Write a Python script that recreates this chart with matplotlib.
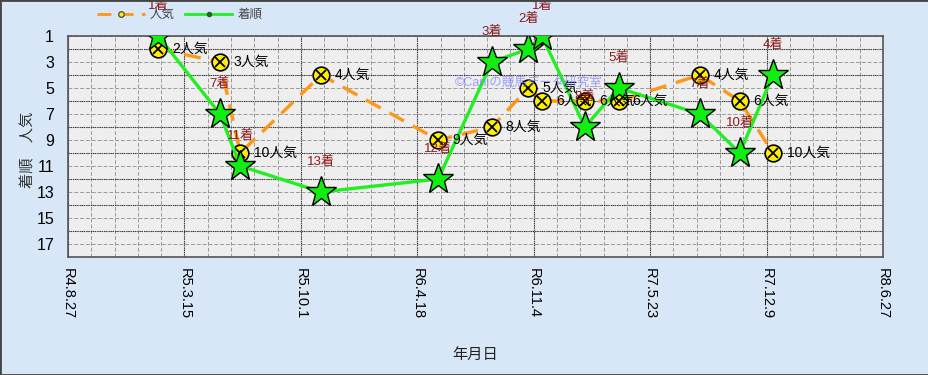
import numpy as np
import pandas as pd
import matplotlib
matplotlib.use('Agg')
import matplotlib.pyplot as plt
import matplotlib.dates as mdates
from matplotlib.lines import Line2D
from matplotlib.patches import Rectangle

plt.rcParams['font.family'] = ['Liberation Sans', 'Noto Sans CJK JP']

# data
race_dates = ['2023-01-29', '2023-05-15', '2023-06-19', '2023-11-05', '2024-05-24',
              '2024-08-24', '2024-10-26', '2024-11-18', '2025-01-31', '2025-03-30',
              '2025-08-16', '2025-10-24', '2025-12-20']
ninki = [2, 3, 10, 4, 9, 8, 5, 6, 6, 6, 4, 6, 10]
chakujun = [1, 7, 11, 13, 12, 3, 2, 1, 8, 5, 7, 10, 4]
x_start, x_end = '2022-08-27', '2026-06-27'
y_ticks = [1, 3, 5, 7, 9, 11, 13, 15, 17]

x = pd.to_datetime(race_dates)

fig = plt.figure(figsize=(9.29, 3.75), dpi=100, facecolor='#d8e7f7')
ax = fig.add_axes([68/929, 1 - 257/375, 815/929, 221/375])
ax.set_facecolor('#eeeeee')

# grid
major_x = pd.date_range(x_start, x_end, freq='200D')
minor_x = pd.date_range(x_start, x_end, freq='40D')
for d in minor_x:
    ax.axvline(d, color='#9a9a9a', lw=0.7, ls=(0, (4, 2)), zorder=0)
for d in major_x:
    ax.axvline(d, color='#333333', lw=0.8, ls=(0, (1, 1)), zorder=0)
for v in range(1, 19):
    ax.axhline(v, color='#9a9a9a', lw=0.7, ls=(0, (4, 2)), zorder=0)
for v in range(2, 19, 2):
    ax.axhline(v, color='#333333', lw=0.8, ls=(0, (1, 1)), zorder=0)

# 人気
ax.plot(x, ninki, color='#ff9614', lw=2.4, ls=(0, (5, 3)), zorder=2)
ax.plot(x, ninki, ls='none', marker='o', ms=12, mfc='#ffee00', mec='black', mew=1.2, zorder=3)
ax.plot(x, ninki, ls='none', marker='x', ms=7, mec='black', mew=1.3, zorder=3)

# 着順
ax.plot(x, chakujun, color='#22ee22', lw=2.4, zorder=4)
ax.plot(x, chakujun, ls='none', marker='*', ms=23, mfc='#11ee11', mec='black', mew=1.0, zorder=5)

for xi, n in zip(x, ninki):
    ax.annotate(f'{n}人気', (xi, n), xytext=(10, 0), textcoords='offset points',
                ha='left', va='center', fontsize=10, color='black', zorder=6,
                annotation_clip=False)
for xi, c in zip(x, chakujun):
    ax.annotate(f'{c}着', (xi, c), xytext=(0, 21.5), textcoords='offset points',
                ha='center', va='center', fontsize=9.5, color='#8b1a1a', zorder=6,
                annotation_clip=False)

# watermark
ax.text(0.475, 0.775, '©Caniの競馬データ研究室', transform=ax.transAxes,
        fontsize=9, color='#8080ff', alpha=0.75, zorder=7)

ax.set_xlim(pd.Timestamp(x_start), pd.Timestamp(x_end))
ax.set_ylim(18, 1)
ax.set_yticks(y_ticks)
ax.set_xticks(major_x)
ax.set_xticklabels([f'R{d.year - 2018}.{d.month}.{d.day}' for d in major_x],
                   rotation=270, fontsize=10.5, va='top', ha='center')
ax.tick_params(axis='x', length=0, pad=8)
ax.tick_params(axis='y', length=0, pad=10, labelsize=11.5)
for s in ax.spines.values():
    s.set_color('#555555')
    s.set_linewidth(1.2)

fig.text(28/929, 1 - 150/375, '着順　人気', rotation=90, ha='center', va='center',
         fontsize=11, color='#333333')
fig.text(475/929, 1 - 355/375, '年月日', ha='center', va='center', fontsize=11,
         color='#222222')

handles = [Line2D([], [], color='#ff9614', lw=2, ls=(0, (5, 3)), marker='o', ms=4,
                  mfc='#ffee00', mec='#555555'),
           Line2D([], [], color='#22ee22', lw=2, marker='o', ms=3, mfc='#226622',
                  mec='#226622')]
fig.legend(handles, ['人気', '着順'], loc='center left', bbox_to_anchor=(86/929, 1 - 15/375),
           ncol=2, frameon=False, fontsize=9, labelcolor='#444444', handlelength=3.8,
           columnspacing=0.8, handletextpad=0.4)

fig.patches.append(Rectangle((0, 0), 1, 1, transform=fig.transFigure, fill=False,
                             edgecolor='#444444', lw=2))

fig.savefig('out.png', dpi=100, facecolor=fig.get_facecolor())
